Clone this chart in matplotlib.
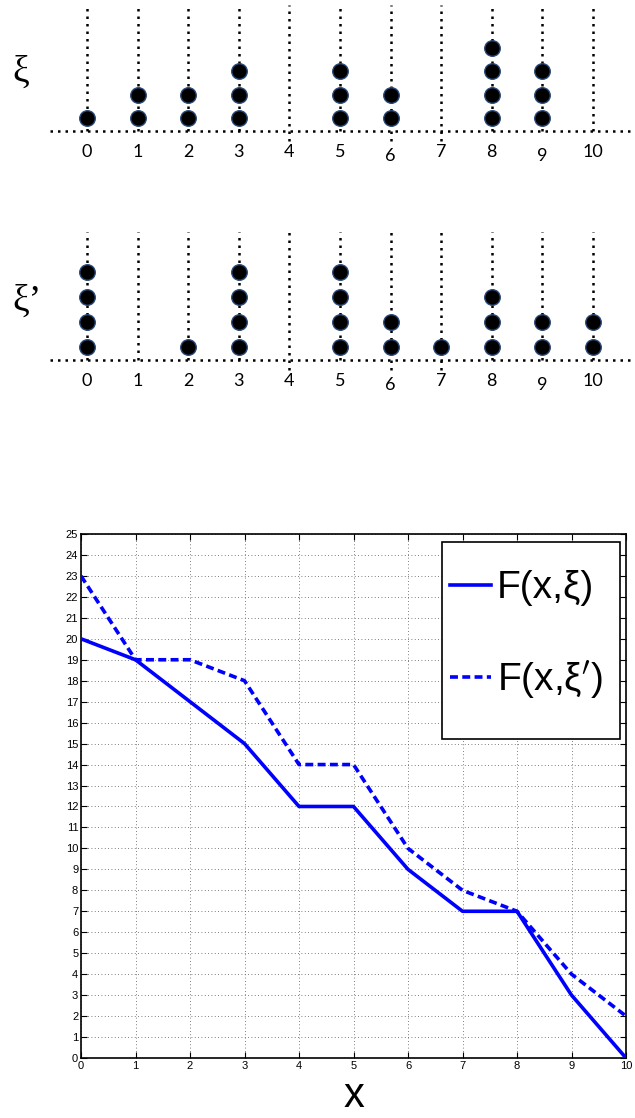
import matplotlib
matplotlib.use("Agg")
import matplotlib.pyplot as plt
from matplotlib.patches import Rectangle
import numpy as np

# ---- data ----
positions = list(range(11))
xi_counts = [1, 2, 2, 3, 0, 3, 2, 0, 4, 3, 0]
xi_prime_counts = [4, 0, 1, 4, 0, 4, 2, 1, 3, 2, 2]
x_vals = [0, 1, 2, 3, 4, 5, 6, 7, 8, 9, 10]
F_xi = [20, 19, 17, 15, 12, 12, 9, 7, 7, 3, 0]
F_xi_prime = [23, 19, 19, 18, 14, 14, 10, 8, 7, 4, 2]
tick_labels = [str(v) for v in positions]

W, H = 635, 1118
fig = plt.figure(figsize=(W / 100, H / 100), dpi=100)

dot_style = (0, (1, 2))
PX0, PXS = 87, 50.6


def stack_panel(px_top, px_bottom, counts, label, base_px, bottom_px, step_px,
                vtop_px, label_px, sym_px, low_lines):
    ax = fig.add_axes([0, 1 - px_bottom / H, 1, (px_bottom - px_top) / H])
    ax.set_xlim((0 - PX0) / PXS, (W - PX0) / PXS)

    def lv(p):
        return 1 + (bottom_px - p) / step_px
    ax.set_ylim(lv(px_bottom), lv(px_top))
    ax.axis("off")
    base = lv(base_px)
    ax.plot([(50 - PX0) / PXS, (630 - PX0) / PXS], [base, base], color="black",
            lw=1.8, linestyle=dot_style, zorder=1)
    for p in positions:
        bot = lv(base_px + 10) if p in low_lines else base
        ax.plot([p, p], [bot, lv(vtop_px)], color="black", lw=1.8,
                linestyle=dot_style, zorder=1)
        c = counts[p]
        if c:
            lev = np.arange(1, c + 1)
            ax.scatter([p] * c, lev, s=125, color="black", edgecolors="#2a4a7a",
                       linewidths=1.0, zorder=3)
        ax.text(p, lv(label_px + (4 if p in (6, 9) else 0)), tick_labels[p],
                ha="center", va="center", fontsize=13, family="Lato")
    ax.text((12 - PX0) / PXS, lv(sym_px), label, ha="left", va="center",
            fontsize=27, family=["Liberation Serif", "DejaVu Serif"])
    return ax


stack_panel(0, 170, xi_counts, "ξ", 131, 118, 23.5, 5, 152, 72, {4, 6, 7})
stack_panel(215, 400, xi_prime_counts, "ξ’", 360, 347, 25, 232, 381, 301, {4, 6, 7})

# ---- bottom line chart ----
l, r, t, b = 81, 626, 534, 1058
ax = fig.add_axes([l / W, 1 - b / H, (r - l) / W, (b - t) / H])
ax.plot(x_vals, F_xi, color="#0000ff", lw=2.6, label="F(x,ξ)", zorder=3)
ax.plot(x_vals, F_xi_prime, color="#0000ff", lw=2.6, linestyle=(0, (2.2, 1.2)),
        label="F(x,ξ$^{\\prime}$)", zorder=3)
ax.set_xlim(0, 10)
ax.set_ylim(0, 25)
ax.set_xticks(range(0, 11))
ax.set_yticks(range(0, 26))
ax.tick_params(direction="in", top=True, right=True, length=4, width=0.8,
               labelsize=8, pad=2)
for lab in ax.get_xticklabels() + ax.get_yticklabels():
    lab.set_family("Liberation Sans")
ax.grid(True, color="#555555", linestyle=(0, (1, 3)), lw=0.6)
for s in ax.spines.values():
    s.set_linewidth(1.2)
ax.set_xlabel("x", fontsize=30, family="Liberation Sans", labelpad=4)

# legend frame and entries
box_l = (442 - l) / (r - l)
box_r = (620 - l) / (r - l)
box_t = (b - 542) / (b - t)
box_b = (b - 739) / (b - t)
ax.add_patch(Rectangle((box_l, box_b), box_r - box_l, box_t - box_b,
                       transform=ax.transAxes, facecolor="white",
                       edgecolor="black", lw=1.2, zorder=5))
leg = ax.legend(loc="center left",
                bbox_to_anchor=((450 - l) / (r - l), (b - 635.5) / (b - t)),
                prop={"family": "Liberation Sans", "size": 28},
                frameon=False, handlelength=1.05, handletextpad=0.15,
                labelspacing=1.35, borderpad=0, borderaxespad=0)
leg.set_zorder(6)

fig.savefig("out.png", dpi=100)
